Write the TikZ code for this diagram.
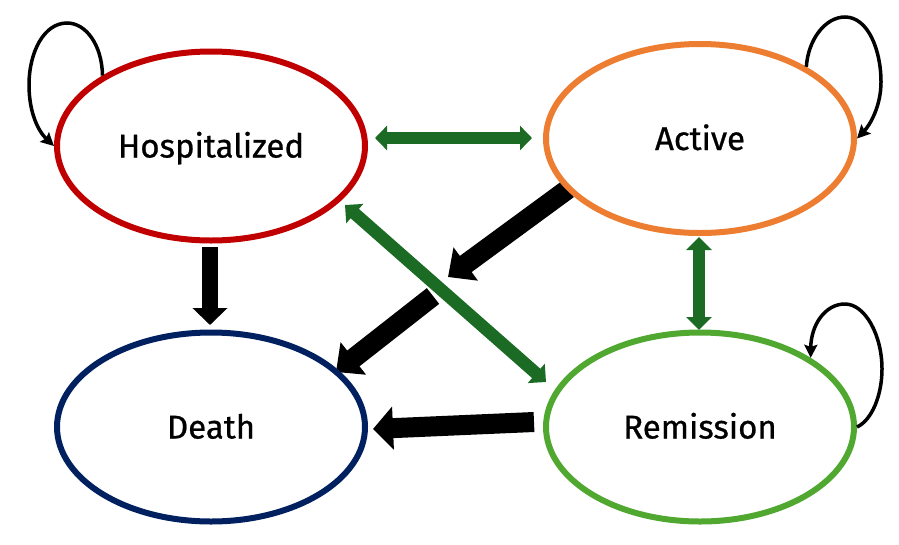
\documentclass[tikz,border=0pt]{standalone}
\usepackage{fontspec}
\setmainfont{Fira Sans}
\newfontfamily\lblfont{Fira Sans}[FakeBold=0.7]
\usetikzlibrary{arrows.meta,shapes.geometric}
\pgfdeclarelayer{bg}
\pgfsetlayers{bg,main}
\definecolor{hospred}{RGB}{192,0,0}
\definecolor{actorange}{RGB}{237,125,49}
\definecolor{deathblue}{RGB}{0,32,96}
\definecolor{remgreen}{RGB}{80,168,48}
\definecolor{arrgreen}{RGB}{27,107,36}
\tikzset{
  state/.style={ellipse, draw, line width=6pt, minimum width=308pt, minimum height=189pt,
    inner sep=0pt, fill=white, text height=23pt, text depth=0pt,
    font=\lblfont\fontsize{33}{36}\selectfont},
  blk/.style={draw=black, line width=19pt, -{Triangle[length=22pt,width=40pt]}},
  grn/.style={draw=arrgreen, line width=12.5pt,
    {Triangle[length=13pt,width=25pt]}-{Triangle[length=13pt,width=25pt]}},
  selfloop/.style={draw=black, line width=3.5pt, -{Stealth[length=13pt,width=13pt,inset=2pt]}}
}
\begin{document}
\begin{tikzpicture}[x=1pt,y=-1pt]
\useasboundingbox (0,0) rectangle (899,544);
\node[state, draw=hospred]   (hosp)  at (211,146)   {Hospitalized};
\node[state, draw=actorange] (act)   at (700,138.5) {Active};
\node[state, draw=deathblue] (death) at (211,427)   {Death};
\node[state, draw=remgreen]  (rem)   at (700,427)   {Remission};

% arrow end points
\coordinate (hdS) at (210,247);   \coordinate (hdE) at (210,325);
\coordinate (amS) at (568,189);   \coordinate (amE) at (448,277);
\coordinate (mdS) at (433,296);   \coordinate (mdE) at (336,372);
\coordinate (rdS) at (534,422);   \coordinate (rdE) at (373,429);
\coordinate (haL) at (375,138);   \coordinate (haR) at (532,138);
\coordinate (arT) at (699,237);   \coordinate (arB) at (699,330);
\coordinate (hrA) at (345,205);   \coordinate (hrB) at (546,382);

\begin{pgfonlayer}{bg}
\draw[blk, line width=16pt, -{Triangle[length=17pt,width=34pt]}] (hdS) -- (hdE);
\draw[blk, line width=20pt] (amS) -- (amE);
\draw[blk, line width=20pt] (mdS) -- (mdE);
\draw[blk, line width=20pt, -{Triangle[length=20pt,width=42pt]}] (rdS) -- (rdE);
\draw[grn, line width=12pt, {Triangle[length=12pt,width=24pt]}-{Triangle[length=12pt,width=24pt]}] (haL) -- (haR);
\draw[grn] (arT) -- (arB);
\draw[grn] (hrA) -- (hrB);
\end{pgfonlayer}

% self loops
\draw[selfloop] (hosp.147) .. controls (102,45) and (86,23) .. (67,23)
   .. controls (44,23) and (29,52) .. (29,85)
   .. controls (29,112) and (38,131) .. (hosp.west);
\draw[selfloop] (act.34) .. controls (808,40) and (825,17) .. (845,17)
   .. controls (868,17) and (881,50) .. (881,82)
   .. controls (881,106) and (870,125) .. (act.east);
\draw[selfloop] (rem.east) .. controls (872,420) and (882,395) .. (882,369)
   .. controls (882,335) and (865,304) .. (845,304)
   .. controls (825,304) and (811,325) .. (rem.32);
\end{tikzpicture}
\end{document}
